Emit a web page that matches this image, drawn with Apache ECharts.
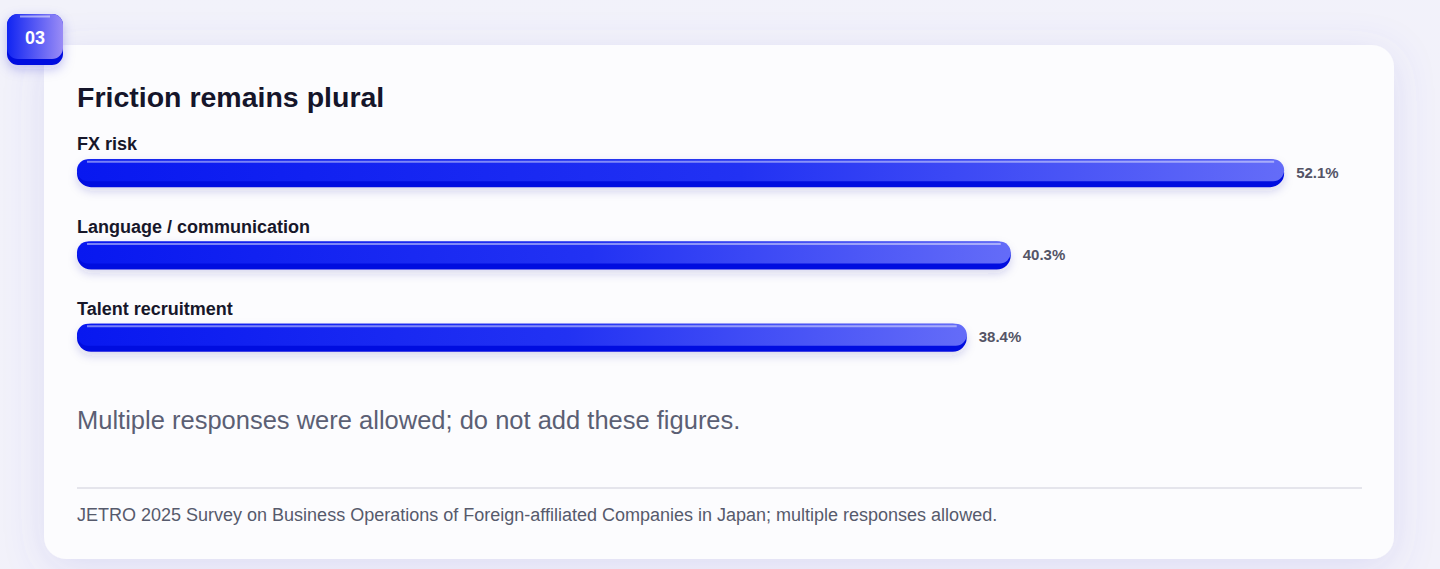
<!DOCTYPE html>
<html>
<head>
<meta charset="utf-8">
<script src="https://cdn.jsdelivr.net/npm/echarts@6/dist/echarts.min.js"></script>
<style>
  html, body { margin: 0; padding: 0; background: #f3f3f9; }
  #chart { width: 1440px; height: 569px; }
</style>
</head>
<body>
<div id="chart"></div>
<script>
// data
var categories = ['FX risk', 'Language / communication', 'Talent recruitment'];
var shares = [52.1, 40.3, 38.4];
var valueLabels = ['52.1%', '40.3%', '38.4%'];

var FONT = '"Liberation Sans", Arial, Helvetica, sans-serif';
var BAR_H = 28;

var chart = echarts.init(document.getElementById('chart'), null, { renderer: 'svg' });

function renderRow(params, api) {
    var idx = api.value(1);
    var start = api.coord([0, idx]);
    var end = api.coord([api.value(0), idx]);
    var x = start[0], cy = start[1];
    var w = end[0] - x;
    var top = cy - BAR_H / 2;
    return {
        type: 'group',
        children: [
            // category label above the bar
            {
                type: 'text',
                style: {
                    text: categories[idx], x: x, y: top - 15,
                    fill: '#17172a', font: 'bold 18px ' + FONT,
                    verticalAlign: 'middle', align: 'left'
                }
            },
            // darker base (bottom edge)
            {
                type: 'rect',
                shape: { x: x, y: top, width: w, height: BAR_H, r: BAR_H / 2 },
                style: {
                    fill: '#0610e0',
                    shadowBlur: 10, shadowOffsetY: 4,
                    shadowColor: 'rgba(40,40,160,0.18)'
                }
            },
            // lighter face
            {
                type: 'rect',
                shape: { x: x, y: top, width: w, height: BAR_H - 6, r: (BAR_H - 6) / 2 },
                style: {
                    fill: new echarts.graphic.LinearGradient(0, 0, 1, 0, [
                        { offset: 0, color: '#0818f0' },
                        { offset: 0.55, color: '#2232f3' },
                        { offset: 1, color: '#646cf8' }
                    ])
                }
            },
            // top highlight
            {
                type: 'line',
                shape: { x1: x + 10, y1: top + 2.5, x2: x + w - 10, y2: top + 2.5 },
                style: { stroke: 'rgba(255,255,255,0.45)', lineWidth: 2 }
            },
            // value label
            {
                type: 'text',
                style: {
                    text: valueLabels[idx], x: x + w + 12, y: cy - 1,
                    fill: '#545466', font: 'bold 15px ' + FONT,
                    verticalAlign: 'middle', align: 'left'
                }
            }
        ]
    };
}

var option = {
    backgroundColor: '#f3f3f9',
    animation: false,
    grid: { left: 77, right: 78, top: 132, height: 247 },
    xAxis: {
        type: 'value', min: 0, max: 55.46,
        show: false
    },
    yAxis: {
        type: 'category', data: categories, inverse: true,
        show: false
    },
    graphic: [
        // soft background
        {
            type: 'rect', z: -10, silent: true,
            shape: { x: 0, y: 0, width: 1440, height: 569 },
            style: {
                fill: new echarts.graphic.LinearGradient(0, 0, 1, 1, [
                    { offset: 0, color: '#f2f2fa' },
                    { offset: 1, color: '#f2f1fa' }
                ])
            }
        },
        // card
        {
            type: 'rect', z: -5, silent: true,
            shape: { x: 44, y: 45, width: 1350, height: 514, r: 22 },
            style: {
                fill: '#fcfcfe',
                shadowBlur: 40, shadowOffsetY: 8,
                shadowColor: 'rgba(90,90,210,0.14)'
            }
        },
        // badge base
        {
            type: 'rect', z: 5,
            shape: { x: 7, y: 14, width: 56, height: 51, r: 11 },
            style: {
                fill: '#0610e0',
                shadowBlur: 12, shadowOffsetY: 4,
                shadowColor: 'rgba(40,40,200,0.25)'
            }
        },
        {
            type: 'rect', z: 6,
            shape: { x: 7, y: 14, width: 56, height: 45, r: 11 },
            style: {
                fill: new echarts.graphic.LinearGradient(0, 0, 1, 0, [
                    { offset: 0, color: '#1024f2' },
                    { offset: 1, color: '#9a8cf6' }
                ])
            }
        },
        {
            type: 'line', z: 7,
            shape: { x1: 20, y1: 16.5, x2: 50, y2: 16.5 },
            style: { stroke: 'rgba(255,255,255,0.5)', lineWidth: 2 }
        },
        {
            type: 'text', z: 8,
            style: {
                text: '03', x: 35, y: 38,
                fill: '#ffffff', font: 'bold 18px ' + FONT,
                align: 'center', verticalAlign: 'middle'
            }
        },
        // title
        {
            type: 'text',
            style: {
                text: 'Friction remains plural', x: 77, y: 97,
                fill: '#15152a', font: 'bold 28.5px ' + FONT,
                verticalAlign: 'middle'
            }
        },
        // note
        {
            type: 'text',
            style: {
                text: 'Multiple responses were allowed; do not add these figures.',
                x: 77, y: 420,
                fill: '#5b5f74', font: '25.5px ' + FONT,
                verticalAlign: 'middle'
            }
        },
        // divider
        {
            type: 'line',
            shape: { x1: 77, y1: 488, x2: 1362, y2: 488 },
            style: { stroke: '#dedee6', lineWidth: 1.5 }
        },
        // source
        {
            type: 'text',
            style: {
                text: 'JETRO 2025 Survey on Business Operations of Foreign-affiliated Companies in Japan; multiple responses allowed.',
                x: 77, y: 515,
                fill: '#565a6c', font: '18px ' + FONT,
                verticalAlign: 'middle'
            }
        }
    ],
    series: [{
        type: 'custom',
        renderItem: renderRow,
        encode: { x: 0, y: 1 },
        data: shares.map(function (v, i) { return [v, i]; })
    }]
};

chart.setOption(option);
</script>
</body>
</html>
